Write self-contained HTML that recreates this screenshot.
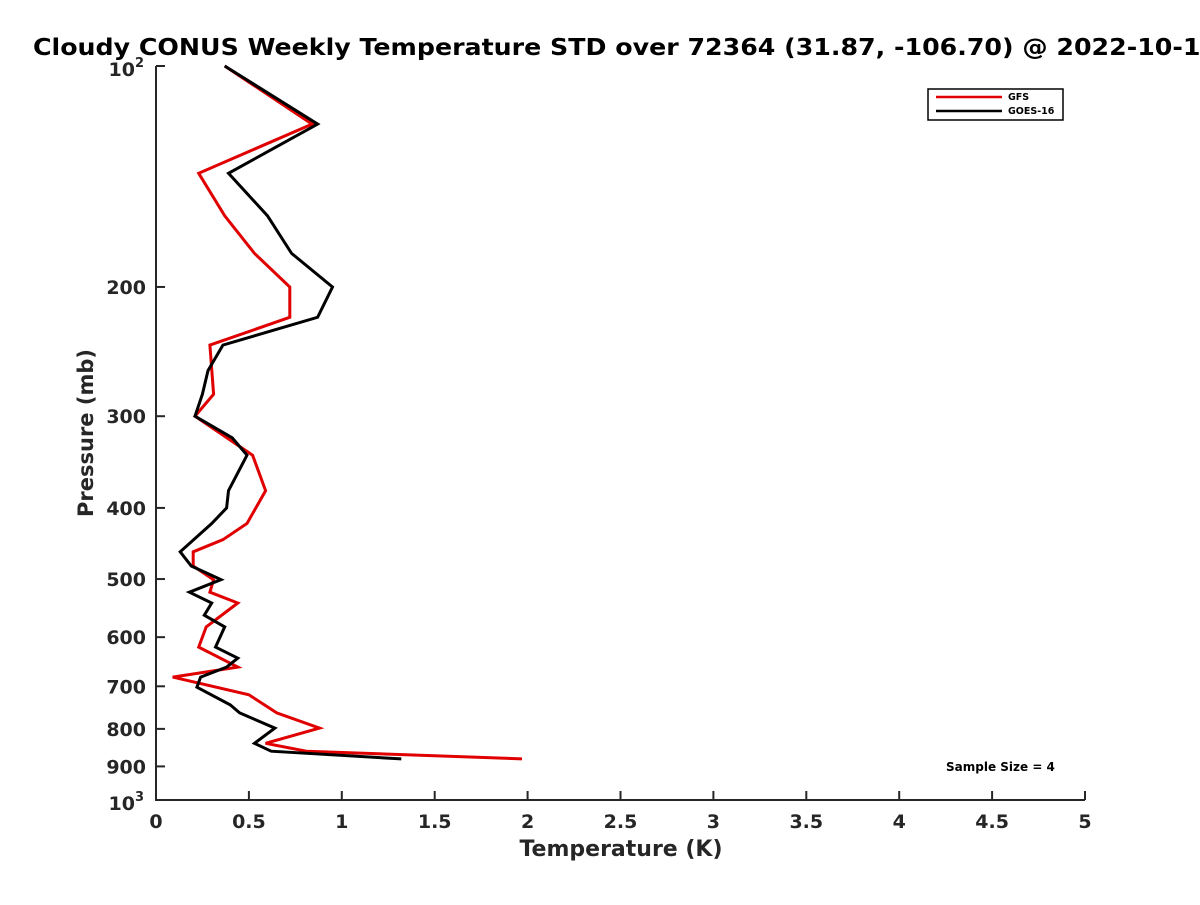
<!DOCTYPE html>
<html><head><meta charset="utf-8"><style>
body{margin:0;background:#fff;font-family:"Liberation Sans","DejaVu Sans",sans-serif}
svg text{font-family:"DejaVu Sans","Liberation Sans",sans-serif;font-weight:bold;fill:#262626}
</style></head><body>
<svg width="1200" height="900" viewBox="0 0 1200 900">
<text x="33" y="55" font-size="23" textLength="1185" lengthAdjust="spacingAndGlyphs" style="fill:#000">Cloudy CONUS Weekly Temperature STD over 72364 (31.87, -106.70) @ 2022-10-12</text>
<g id="axes"></g>
<g id="series"></g>
<g>
<rect x="928" y="89" width="135" height="31" fill="#fff" stroke="#000" stroke-width="1.5"/>
<line x1="936" y1="97" x2="1002" y2="97" stroke="#e00000" stroke-width="2.5"/>
<text x="1008" y="100" font-size="9.5" style="fill:#000">GFS</text>
<line x1="936" y1="111" x2="1002" y2="111" stroke="#000" stroke-width="2.5"/>
<text x="1008" y="114" font-size="9.5" style="fill:#000">GOES-16</text>
</g>
<text x="946" y="771" font-size="12" style="fill:#000">Sample Size = 4</text>
<text x="621" y="856" font-size="22" text-anchor="middle">Temperature (K)</text>
<text transform="translate(93,433) rotate(-90)" font-size="21" text-anchor="middle">Pressure (mb)</text>
</svg>
<script>
const xTicks=[0,0.5,1,1.5,2,2.5,3,3.5,4,4.5,5];
const xTickLabels=["0","0.5","1","1.5","2","2.5","3","3.5","4","4.5","5"];
const yTicks=[200,300,400,500,600,700,800,900];
const gfsP=[100,120,140,160,180,200,220,240,280,300,339,379,420,442,459,480,501,521,539,581,619,659,680,719,761,798,837,858,879];
const gfsT=[0.37,0.84,0.23,0.37,0.53,0.72,0.72,0.29,0.31,0.21,0.52,0.59,0.49,0.36,0.20,0.20,0.31,0.29,0.44,0.27,0.23,0.44,0.09,0.50,0.65,0.88,0.59,0.81,1.97];
const goesP=[100,120,140,160,180,200,220,240,260,280,300,321,339,379,400,420,459,480,501,521,539,560,581,619,641,659,680,702,742,761,798,837,858,879];
const goesT=[0.37,0.87,0.39,0.60,0.73,0.95,0.87,0.36,0.28,0.25,0.21,0.41,0.49,0.39,0.38,0.30,0.13,0.19,0.35,0.18,0.30,0.26,0.37,0.32,0.44,0.38,0.24,0.22,0.40,0.45,0.64,0.53,0.62,1.32];
const X0=156,X1=1085,Y0=66,Y1=800;
const xs=v=>X0+(v/5)*(X1-X0);
const ys=p=>Y0+(Math.log10(p)-2)*(Y1-Y0);
const NS="http://www.w3.org/2000/svg";
function mk(t,a){const e=document.createElementNS(NS,t);for(const k in a)e.setAttribute(k,a[k]);return e;}
const ax=document.getElementById('axes');
let l=mk('path',{d:`M${X0},${Y0}V${Y1}H${X1}`,fill:'none',stroke:'#262626','stroke-width':2});


ax.appendChild(l);
xTicks.forEach((v,i)=>{
 const t=mk('line',{x1:xs(v),x2:xs(v),y1:Y1,y2:Y1-9,stroke:'#262626','stroke-width':2});
 
 
 ax.appendChild(t);
 const tx=mk('text',{x:xs(v),y:Y1+28,'font-size':19,'text-anchor':'middle'});
 tx.textContent=xTickLabels[i];
 
 
 ax.appendChild(tx);
});
[100,...yTicks,1000].forEach(p=>{
 const t=mk('line',{x1:X0,x2:X0+9,y1:ys(p),y2:ys(p),stroke:'#262626','stroke-width':2});
 
 
 ax.appendChild(t);
});
yTicks.forEach(p=>{
 const tx=mk('text',{x:X0-10,y:ys(p)+7,'font-size':19,'text-anchor':'end'});
 tx.textContent=String(p);
 
 
 ax.appendChild(tx);
});
[[100,'2'],[1000,'3']].forEach(([p,e])=>{
 const tx=mk('text',{x:X0-12,y:ys(p)+10,'font-size':19,'text-anchor':'end'});
 tx.innerHTML='10<tspan dy="-9" font-size="13">'+e+'</tspan>';
 
 
 ax.appendChild(tx);
});
const sg=document.getElementById('series');
function line(P,T,c,name){
 const pts=P.map((p,i)=>xs(T[i]).toFixed(1)+','+ys(p).toFixed(1)).join(' ');
 const e=mk('polyline',{points:pts,fill:'none',stroke:c,'stroke-width':3,'stroke-linejoin':'miter'});
 
 
 sg.appendChild(e);
}
line(gfsP,gfsT,'#e00000','gfs-line');
line(goesP,goesT,'#000','goes16-line');
</script>
</body></html>
